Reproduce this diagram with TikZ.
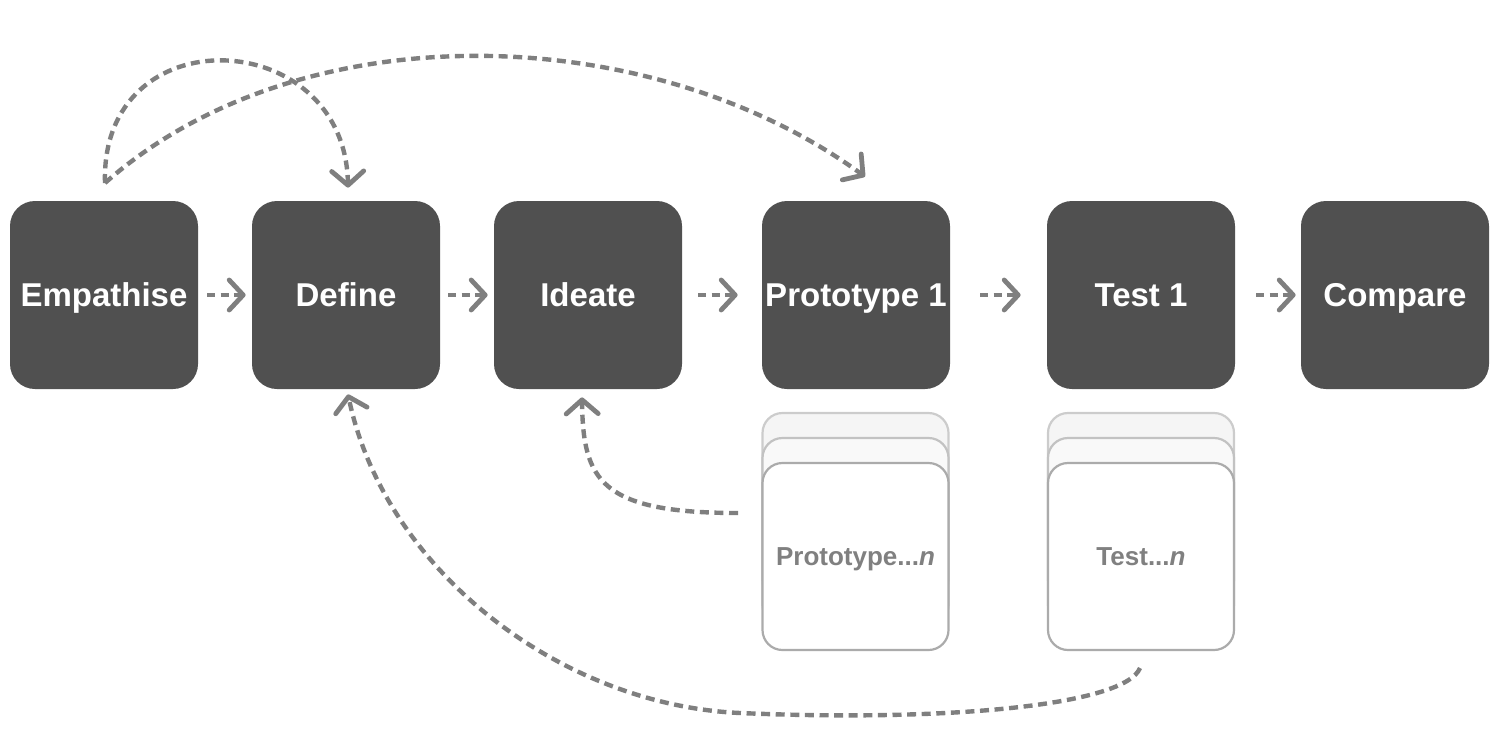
\documentclass[tikz,border=0pt]{standalone}
\usepackage{fontspec}
\setmainfont{Liberation Sans}
\usetikzlibrary{arrows.meta}
\definecolor{boxgray}{HTML}{505050}
\definecolor{arrgray}{HTML}{7F7F7F}
\definecolor{txtgray}{HTML}{808080}
\begin{document}
\begin{tikzpicture}[x=0.5pt,y=-0.5pt,
  stage/.style={draw=none,fill=boxgray,rounded corners=12.5pt,minimum width=94pt,minimum height=94pt,
    text=white,font=\fontsize{16.5pt}{19pt}\selectfont\bfseries,inner sep=0pt,
    text height=11.8pt,text depth=0pt},
  backcard/.style={draw=#1,line width=1.1pt,rounded corners=10pt,minimum width=93pt,minimum height=93.5pt,inner sep=0pt},
  frontcard/.style={backcard=#1,fill=white,text=txtgray,font=\fontsize{13pt}{15pt}\selectfont\bfseries,
    text height=9.3pt,text depth=0pt},
  flow/.style={draw=arrgray,line width=2pt,dash pattern=on 4pt off 2.6pt,
    -{Straight Barb[length=7pt,width=15pt,line width=2.4pt,round]}},
  loop/.style={draw=arrgray,line width=2.2pt,dash pattern=on 4.5pt off 2.8pt,
    -{Straight Barb[length=7pt,width=16pt,line width=2.4pt,round]}}]
\useasboundingbox (0,0) rectangle (1500,750);
% main stages
\node[stage] (emp) at (104,295) {Empathise};
\node[stage] (def) at (346,295) {Define};
\node[stage] (ide) at (588,295) {Ideate};
\node[stage] (pro) at (856,295) {Prototype 1};
\node[stage] (tst) at (1141,295) {Test 1};
\node[stage] (cmp) at (1395,295) {Compare};
% stacks
\node[backcard={black!20},fill=black!4] (pb3) at (855.5,506.5) {};
\node[backcard={black!24},fill=black!2.5] (pb2) at (855.5,531.5) {};
\node[frontcard={black!33}] (pn) at (855.5,556.5) {Prototype...\textit{n}};
\node[backcard={black!20},fill=black!4] (tb3) at (1141,506.5) {};
\node[backcard={black!24},fill=black!2.5] (tb2) at (1141,531.5) {};
\node[frontcard={black!33}] (tn) at (1141,556.5) {Test...\textit{n}};
% flow arrows
\draw[flow] ([xshift=4.5pt]emp.east) -- ([xshift=-3pt]def.west);
\draw[flow] ([xshift=4pt]def.east) -- ([xshift=-3pt]ide.west);
\draw[flow] ([xshift=8pt]ide.east) -- ([xshift=-12pt]pro.west);
\draw[flow] ([xshift=15pt]pro.east) -- ([xshift=-13pt]tst.west);
\draw[flow] ([xshift=10.5pt]tst.east) -- ([xshift=-2.5pt]cmp.west);
% loops
\coordinate (s1) at (105,183);
\draw[loop] (s1) .. controls (100,14) and (345,25) .. ([xshift=1pt,yshift=6.5pt]def.north);
\draw[loop] (s1) .. controls (300,10) and (650,20) .. ([xshift=4.5pt,yshift=12pt]pro.north);
\coordinate (s3) at (738,513);
\draw[loop] (s3) .. controls (600,513) and (583,480) .. ([xshift=-3pt,yshift=-4pt]ide.south);
\coordinate (s4) at (1140,668);
\coordinate (m4) at (740,713);
\draw[loop] (s4) .. controls (1125,705) and (950,722) .. (m4)
  .. controls (560,705) and (385,570) .. ([xshift=1pt,yshift=-2.5pt]def.south);
\end{tikzpicture}
\end{document}
